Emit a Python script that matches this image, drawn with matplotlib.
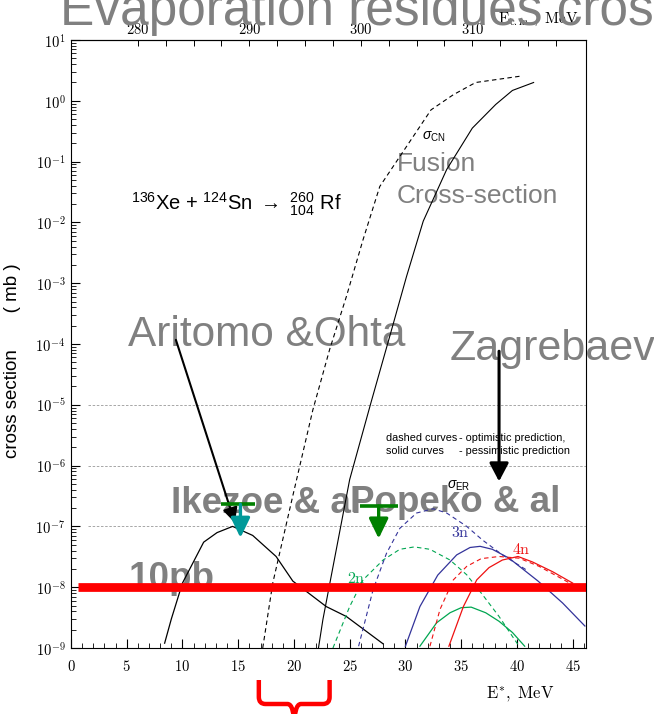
import matplotlib
matplotlib.use("Agg")
import matplotlib.pyplot as plt
import numpy as np
from matplotlib import transforms
from matplotlib.patches import PathPatch
from matplotlib.path import Path
from matplotlib.ticker import (FixedLocator, FuncFormatter, LogLocator,
                               MultipleLocator, NullFormatter)

plt.rcParams["font.family"] = "Liberation Sans"
plt.rcParams["mathtext.fontset"] = "cm"
plt.rcParams["mathtext.rm"] = "Liberation Sans"
plt.rcParams["mathtext.it"] = "Liberation Sans:italic"
plt.rcParams["mathtext.bf"] = "Liberation Sans:bold"
plt.rcParams["mathtext.sf"] = "Liberation Sans"

# 136Xe + 124Sn -> 260Rf, cross sections in mb vs excitation energy E* (MeV)
# capture / compound nucleus formation
cn_opt_e = [17.2, 18.1, 19.9, 21.7, 23.2, 24.7, 26.2, 27.7, 32.3, 34.3, 36.3, 40.5]
cn_opt_sig = [1.0e-9, 1.17e-8, 3.2e-7, 8.3e-6, 8.1e-5, 6.0e-4, 5.2e-3, 3.9e-2,
              0.71, 1.26, 2.0, 2.57]
cn_pes_e = [22.2, 22.6, 25.0, 26.9, 28.6, 30.1, 31.6, 33.7, 36.0, 38.1, 39.6, 41.5]
cn_pes_sig = [1.0e-9, 2.95e-9, 5.9e-7, 1.07e-5, 1.35e-4, 1.29e-3, 1.05e-2, 7.4e-2,
              0.355, 0.87, 1.48, 2.0]

# evaporation residues (single curve, left)
er_e = [8.4, 9.0, 10.0, 11.9, 13.1, 14.5, 16.3, 18.4, 19.9, 22.9, 24.7, 28.0]
er_sig = [1.2e-9, 3.0e-9, 1.17e-8, 5.5e-8, 7.9e-8, 1.0e-7, 7.1e-8, 3.2e-8,
          1.26e-8, 4.8e-9, 3.3e-9, 1.17e-9]

# xn channels: optimistic (dashed) and pessimistic (solid)
n2_opt_e = [23.5, 25.0, 26.2, 28.0, 29.5, 30.8, 32.2, 34.0, 35.5, 36.9, 38.4, 39.6, 40.2]
n2_opt_sig = [1.0e-9, 4.8e-9, 1.32e-8, 2.8e-8, 4.2e-8, 4.6e-8, 4.2e-8, 2.8e-8,
              1.6e-8, 7.6e-9, 3.3e-9, 1.55e-9, 1.07e-9]
n2_pes_e = [31.3, 32.8, 34.0, 35.0, 35.9, 37.2, 38.4, 39.6, 40.7]
n2_pes_sig = [1.07e-9, 2.6e-9, 3.8e-9, 4.6e-9, 4.7e-9, 3.8e-9, 2.75e-9, 1.8e-9, 1.07e-9]

n3_opt_e = [25.8, 27.1, 28.3, 29.5, 31.0, 32.5, 33.7, 35.5, 36.9, 38.7, 40.8]
n3_opt_sig = [1.07e-9, 9.1e-9, 3.6e-8, 9.3e-8, 1.66e-7, 1.95e-7, 1.66e-7, 1.0e-7,
              6.0e-8, 3.4e-8, 1.95e-8]
n3_pes_e = [30.0, 31.3, 32.9, 34.6, 35.8, 36.7, 37.8, 39.3, 41.9, 44.1, 46.1]
n3_pes_sig = [1.07e-9, 4.8e-9, 1.58e-8, 3.4e-8, 4.5e-8, 4.7e-8, 4.2e-8, 3.0e-8,
              1.26e-8, 5.5e-9, 2.3e-9]

n4_opt_e = [32.2, 33.1, 34.3, 35.5, 36.8, 38.4, 40.2, 42.0, 45.0]
n4_opt_sig = [1.07e-9, 4.3e-9, 1.32e-8, 2.2e-8, 2.95e-8, 3.2e-8, 3.0e-8, 2.2e-8, 1.1e-8]
n4_pes_e = [33.9, 35.2, 36.4, 37.5, 38.7, 40.1, 41.4, 43.2, 45.0]
n4_pes_sig = [1.07e-9, 4.8e-9, 1.32e-8, 2.1e-8, 2.8e-8, 3.2e-8, 2.6e-8, 1.8e-8, 1.17e-8]

grid_levels = [1e-5, 1e-6, 1e-7]
limit_10pb = 1e-8
limit_start = 0.63

ecm_ticks = [280, 290, 300, 310]
ecm_shift = 274.0  # E_cm = E* + 274 MeV

# measured upper limits: (bar from, bar to, arrow x, bar level, arrow tip)
ikezoe_limit = (13.5, 16.5, 15.2, 2.3e-7, 6.5e-8)
popeko_limit = (25.9, 29.3, 27.6, 2.15e-7, 6.3e-8)

BLUE = "#33339a"
RED = "#ee1111"
GREEN = "#00a651"
GRAY = "#808080"
DASH = (0, (4, 3))

fig = plt.figure(figsize=(6.54, 7.14), dpi=100)
ax = fig.add_axes([71 / 654, 1 - 648 / 714, 515 / 654, 608 / 714])
ax.set_yscale("log")
ax.set_xlim(0, 46.2)
ax.set_ylim(1e-9, 10)

for lvl in grid_levels:
    ax.hlines(lvl, 1.55, 46.2, colors="#999999", linestyles=(0, (3, 2)), lw=0.6, zorder=1.5)

ax.plot(cn_opt_e, cn_opt_sig, color="black", lw=0.8, ls=DASH)
ax.plot(cn_pes_e, cn_pes_sig, color="black", lw=0.8)
ax.plot(er_e, er_sig, color="black", lw=0.9)

ax.plot(n2_opt_e, n2_opt_sig, color=GREEN, lw=0.8, ls=DASH)
ax.plot(n2_pes_e, n2_pes_sig, color=GREEN, lw=0.9)
ax.plot(n3_opt_e, n3_opt_sig, color=BLUE, lw=0.8, ls=DASH)
ax.plot(n3_pes_e, n3_pes_sig, color=BLUE, lw=0.9)
ax.plot(n4_opt_e, n4_opt_sig, color=RED, lw=0.8, ls=DASH)
ax.plot(n4_pes_e, n4_pes_sig, color=RED, lw=0.9)

# 10 pb line
ax.hlines(limit_10pb, limit_start, 46.2, colors="#ff0000", lw=6.3, zorder=2.2)

# axes styling
ax.xaxis.set_major_locator(MultipleLocator(5))
ax.xaxis.set_minor_locator(MultipleLocator(1))
ax.xaxis.set_major_formatter(FuncFormatter(lambda v, _: r"$%d$" % v))
ax.yaxis.set_major_locator(LogLocator(base=10, numticks=20))
ax.yaxis.set_minor_locator(LogLocator(base=10, subs=np.arange(2, 10), numticks=20))
ax.yaxis.set_minor_formatter(NullFormatter())
ax.yaxis.set_major_formatter(FuncFormatter(lambda v, _: r"$10^{%d}$" % round(np.log10(v))))
ax.tick_params(which="both", direction="in", top=False, right=False, labelsize=10.5)
ax.tick_params(which="major", length=6.5, width=0.8)
ax.tick_params(which="minor", length=3.6, width=0.6)
ax.tick_params(axis="x", pad=8)
ax.tick_params(axis="y", pad=4)
for sp in ax.spines.values():
    sp.set_linewidth(0.8)

sec = ax.secondary_xaxis("top", functions=(lambda e: e + ecm_shift, lambda e: e - ecm_shift))
sec.set_xticks(ecm_ticks)
sec.xaxis.set_minor_locator(FixedLocator([v for v in np.arange(280, 320, 2.5) if v % 10]))
sec.xaxis.set_major_formatter(FuncFormatter(lambda v, _: r"$%d$" % v))
sec.tick_params(which="both", direction="in", pad=2, labelsize=10.5, length=4.5, width=0.7)

ax.set_ylabel("cross section       ( mb )", fontsize=13.5)
ax.yaxis.set_label_coords(-0.098, 0.473)
fig.text(486 / 654, 1 - 694 / 714, r"$\mathrm{E^{*},\ MeV}$", fontsize=12, va="center")
fig.text(498 / 654, 1 - 19 / 714, r"$\mathrm{E_{c.m.},\ MeV}$", fontsize=11, va="center")

# curve labels
ax.text(31.5, 0.23, r"$\sigma_{\rm CN}$", fontsize=10, math_fontfamily="custom", va="baseline")
ax.text(33.7, 4.6e-7, r"$\sigma_{\rm ER}$", fontsize=10, math_fontfamily="custom",
        va="center", zorder=0.9)
ax.text(34.1, 7.9e-8, r"$\mathrm{3n}$", fontsize=11.5, color=BLUE, va="center")
ax.text(39.6, 4.2e-8, r"$\mathrm{4n}$", fontsize=11.5, color=RED, va="center")
ax.text(24.8, 1.4e-8, r"$\mathrm{2n}$", fontsize=11.5, color=GREEN, va="center")
ax.text(5.4, 2.0e-2, r"${}^{136}$Xe + ${}^{124}$Sn $\rightarrow$ ${}^{260}_{104}$ Rf",
        fontsize=14.5, math_fontfamily="custom", va="center")
ax.text(28.3, 2.84e-6, "dashed curves", fontsize=7.8, va="center")
ax.text(34.8, 2.84e-6, "- optimistic prediction,", fontsize=7.8, va="center")
ax.text(28.3, 1.71e-6, "solid curves", fontsize=7.8, va="center")
ax.text(34.8, 1.71e-6, "- pessimistic prediction", fontsize=7.8, va="center")

# overlaid annotations
ann = dict(color=GRAY, va="baseline", zorder=1, clip_on=False)
ax.text(29.2, 0.069, "Fusion", fontsize=19, **ann)
ax.text(29.2, 0.0211, "Cross-section", fontsize=19, **ann)
ax.text(5.1, 9.1e-5, "Aritomo &Ohta", fontsize=30.5, **ann)
ax.text(34.0, 5.5e-5, "Zagrebaev", fontsize=31, **ann)
ax.text(8.93, 1.66e-7, "Ikezoe & al", fontsize=26.5, fontweight="bold", **ann)
ax.text(25.0, 1.74e-7, "Popeko & al", fontsize=26.5, fontweight="bold", **ann)
ax.text(5.13, 9.7e-9, "10pb", fontsize=26.5, fontweight="bold", **ann)

ax.annotate("", xy=(14.7, 1.15e-7), xytext=(9.41, 1.17e-4),
            arrowprops=dict(arrowstyle="-|>,head_length=0.9,head_width=0.45",
                            mutation_scale=10, lw=1.5, color="black",
                            shrinkA=0, shrinkB=0), zorder=4)
ax.annotate("", xy=(38.4, 5.5e-7), xytext=(38.4, 7.6e-5),
            arrowprops=dict(arrowstyle="-|>,head_length=1.1,head_width=0.58",
                            mutation_scale=10, lw=2.2, color="black",
                            shrinkA=0, shrinkB=0), zorder=4)

for (x0, x1, xa, top, tip), acol in ((ikezoe_limit, "#009999"), (popeko_limit, "#008000")):
    ax.hlines(top, x0, x1, colors="#008000", lw=2.6, zorder=4)
    ax.annotate("", xy=(xa, tip), xytext=(xa, top),
                arrowprops=dict(arrowstyle="-|>,head_length=1.2,head_width=0.58",
                                mutation_scale=10, lw=2.4, color=acol,
                                shrinkA=0, shrinkB=0), zorder=4.5)

# brace under the axis marking the 17-23 MeV window
bx0, bx1 = 16.85, 23.2
bxc = 0.5 * (bx0 + bx1)
ytop, ymid, ybot, r = 1 - 680 / 714, 1 - 704 / 714, -0.02, 0.0098
verts = [(bx0, ytop), (bx0, ymid + r), (bx0, ymid), (bx0 + 0.6, ymid),
         (bxc - 0.6, ymid), (bxc, ymid), (bxc, ybot),
         (bx1, ytop), (bx1, ymid + r), (bx1, ymid), (bx1 - 0.6, ymid),
         (bxc + 0.6, ymid), (bxc, ymid), (bxc, ybot)]
codes = [Path.MOVETO, Path.LINETO, Path.CURVE3, Path.CURVE3,
         Path.LINETO, Path.CURVE3, Path.CURVE3] * 2
brace_tr = transforms.blended_transform_factory(ax.transData, fig.transFigure)
ax.add_patch(PathPatch(Path(verts, codes), transform=brace_tr, fill=False,
                       edgecolor="#ff0000", lw=3.2, clip_on=False,
                       capstyle="butt", joinstyle="round"))

fig.text(60 / 654, 1 - 25 / 714, "Evaporation residues cross section",
         fontsize=37, color=GRAY, va="baseline", zorder=10)

fig.savefig("out.png", dpi=100)
